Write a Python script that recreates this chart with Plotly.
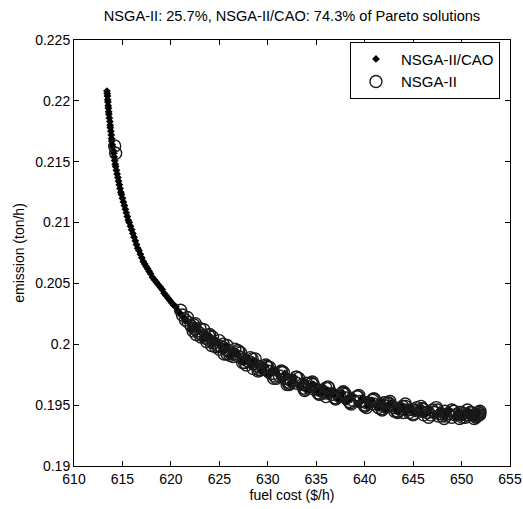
import plotly.graph_objects as go

title_text = "NSGA-II: 25.7%, NSGA-II/CAO: 74.3% of Pareto solutions"
x_label = "fuel cost ($/h)"
y_label = "emission (ton/h)"
x_ticks = [610, 615, 620, 625, 630, 635, 640, 645, 650, 655]
y_ticks = [0.19, 0.195, 0.2, 0.205, 0.21, 0.215, 0.22, 0.225]
y_tick_text = ["0.19", "0.195", "0.2", "0.205", "0.21", "0.215", "0.22", "0.225"]

# NSGA-II/CAO solutions (fuel cost, emission)
cao_cost = [613.4, 613.45, 613.5, 613.55, 613.6, 613.7, 613.75, 613.85, 613.9, 614.0,
            614.1, 614.2, 614.3, 614.45, 614.6, 614.75, 614.9, 615.1, 615.3, 615.5,
            615.7, 615.95, 616.2, 616.45, 616.7, 617.0, 617.3, 617.6, 617.9, 618.3,
            618.7, 619.1, 619.5, 619.9, 620.3, 620.7, 621.1, 621.5, 621.9, 622.4,
            622.9, 623.4, 623.9, 624.5, 625.1, 625.7, 626.3, 626.9, 627.5, 628.2,
            628.9, 629.6, 630.3, 631.0, 631.8, 632.6, 633.4, 634.2, 635.0, 635.9,
            636.8, 637.7, 638.6, 639.5, 640.4, 641.3, 642.2, 643.1, 644.0, 644.9,
            645.8, 646.7, 647.6, 648.5, 649.4, 650.3, 651.0, 651.6,
            622.0, 624.0, 626.0, 628.0, 630.0, 632.0, 634.0, 636.0, 638.0, 640.0,
            642.0, 644.0, 646.0, 648.0, 650.0, 651.2,
            620.5, 621.5, 622.5, 623.5, 624.5, 625.5, 626.5, 627.5, 628.5, 629.5,
            630.5, 631.5, 632.5, 633.5, 634.5, 635.5, 636.5, 637.5, 638.5, 639.5,
            640.5, 641.5, 642.5, 643.5, 644.5, 645.5, 646.5, 647.5, 648.5, 649.5,
            650.5, 651.4,
            622.25, 622.75, 623.25, 623.75, 624.25, 624.75, 625.25, 625.75, 626.25, 626.75,
            627.25, 627.75, 628.25, 628.75, 629.25, 629.75, 630.25, 630.75, 631.25, 631.75,
            632.25, 632.75, 633.25, 633.75, 634.25, 634.75, 635.25, 635.75, 636.25, 636.75,
            637.25, 637.75, 638.25, 638.75, 639.25, 639.75, 640.25, 640.75, 641.25, 641.75,
            642.25, 642.75, 643.25, 643.75, 644.25, 644.75, 645.25, 645.75, 646.25, 646.75,
            647.25, 647.75, 648.25, 648.75, 649.25, 649.75, 650.25, 650.75, 651.25, 651.75,
            613.43, 613.48, 613.53, 613.58, 613.65, 613.73, 613.8, 613.88, 613.95, 614.05,
            614.15, 614.25, 614.38, 614.53, 614.68, 614.83, 615.0, 615.2, 615.4, 615.6,
            615.83, 616.08, 616.33, 616.58, 616.85, 617.15, 617.45, 617.75, 618.1, 618.5,
            618.9, 619.3, 619.7, 620.1, 620.9, 621.3]
cao_emis = [0.2208, 0.2204, 0.2199, 0.2194, 0.2189, 0.2183, 0.2178, 0.2172, 0.2167, 0.2162,
            0.2157, 0.2151, 0.2146, 0.2140, 0.2134, 0.2128, 0.2123, 0.2117, 0.2111, 0.2105,
            0.2100, 0.2094, 0.2088, 0.2082, 0.2077, 0.2071, 0.2066, 0.2062, 0.2058, 0.2053,
            0.2049, 0.2045, 0.2040, 0.2036, 0.2032, 0.2028, 0.2024, 0.2021, 0.2018, 0.2014,
            0.2011, 0.2008, 0.2005, 0.2002, 0.1999, 0.1996, 0.1993, 0.1991, 0.1988, 0.1985,
            0.1982, 0.1979, 0.1977, 0.1975, 0.1972, 0.1970, 0.1967, 0.1965, 0.1963, 0.1960,
            0.1958, 0.1956, 0.1955, 0.1953, 0.1951, 0.1950, 0.1949, 0.1948, 0.1946, 0.1945,
            0.1945, 0.1944, 0.1943, 0.1943, 0.1942, 0.1942, 0.1942, 0.1942,
            0.2012, 0.2007, 0.1990, 0.1988, 0.1974, 0.1973, 0.1962, 0.1963, 0.1952, 0.1954,
            0.1946, 0.1949, 0.1942, 0.1945, 0.1940, 0.1944,
            0.2031, 0.2019, 0.2016, 0.2005, 0.2004, 0.1994, 0.1995, 0.1985, 0.1987, 0.1978,
            0.1979, 0.1971, 0.1973, 0.1965, 0.1967, 0.1960, 0.1962, 0.1955, 0.1958, 0.1952,
            0.1954, 0.1948, 0.1951, 0.1945, 0.1948, 0.1943, 0.1946, 0.1941, 0.1945, 0.1940,
            0.1944, 0.1940,
            0.2012, 0.2014, 0.2005, 0.2008, 0.2000, 0.2003, 0.1995, 0.1999, 0.1990, 0.1994,
            0.1986, 0.1990, 0.1982, 0.1986, 0.1978, 0.1982, 0.1975, 0.1979, 0.1972, 0.1976,
            0.1968, 0.1973, 0.1965, 0.1970, 0.1962, 0.1967, 0.1960, 0.1965, 0.1957, 0.1962,
            0.1955, 0.1960, 0.1953, 0.1958, 0.1951, 0.1956, 0.1949, 0.1954, 0.1948, 0.1953,
            0.1946, 0.1952, 0.1945, 0.1950, 0.1944, 0.1949, 0.1943, 0.1948, 0.1942, 0.1947,
            0.1941, 0.1946, 0.1940, 0.1946, 0.1940, 0.1945, 0.1940, 0.1945, 0.1940, 0.1944,
            0.2206, 0.2201, 0.2196, 0.2191, 0.2186, 0.2180, 0.2175, 0.2169, 0.2164, 0.2159,
            0.2154, 0.2148, 0.2143, 0.2137, 0.2131, 0.2125, 0.2120, 0.2114, 0.2108, 0.2102,
            0.2097, 0.2091, 0.2085, 0.2079, 0.2074, 0.2068, 0.2064, 0.2060, 0.2055, 0.2051,
            0.2047, 0.2042, 0.2038, 0.2034, 0.2026, 0.2022]

# NSGA-II solutions (fuel cost, emission)
nsga_cost = [614.2, 614.3,
             621.2, 621.5, 621.8, 622.1, 622.4, 622.7, 623.0, 623.3, 623.6, 624.0,
             624.4, 624.8, 625.2, 625.6, 626.0, 626.5, 627.0, 627.5, 628.0, 628.5,
             629.0, 629.5, 630.0, 630.6, 631.2, 631.8, 632.4, 633.0, 633.6, 634.2,
             634.8, 635.4, 636.0, 636.7, 637.4, 638.1, 638.8, 639.5, 640.2, 640.9,
             641.6, 642.3, 643.0, 643.7, 644.4, 645.1, 645.8, 646.5, 647.2, 647.9,
             648.6, 649.3, 650.0, 650.6, 651.2, 651.7,
             622.5, 624.0, 625.5, 627.0, 628.5, 630.0, 632.0, 634.0, 636.0, 638.0,
             640.0, 642.0, 644.0, 646.0, 648.0, 650.0, 651.5, 651.8,
             621.0, 621.7, 622.3, 623.0, 623.7, 624.3, 625.0, 625.8, 626.4, 627.2,
             627.8, 628.7, 629.3, 630.2, 630.9, 631.6, 632.3, 633.2, 633.9, 634.7,
             635.3, 636.3, 637.0, 637.9, 638.5, 639.3, 640.0, 640.8, 641.4, 642.4,
             643.1, 643.9, 644.6, 645.4, 646.1, 647.0, 647.6, 648.3, 649.0, 649.8,
             650.4, 651.0, 651.6, 651.9,
             622.35, 623.1, 623.9, 624.6, 625.4, 626.1, 626.9, 627.6, 628.4, 629.1,
             629.9, 630.7, 631.4, 632.1, 632.9, 633.7, 634.5, 635.2, 636.0, 636.9,
             637.7, 638.4, 639.2, 640.1, 640.9, 641.8, 642.6, 643.4, 644.2, 645.0,
             645.9, 646.8, 647.5, 648.4, 649.2, 650.1, 650.9, 651.4, 651.85,
             622.6, 623.4, 624.2, 625.0, 625.8, 626.6, 627.4, 628.2, 629.0, 629.8,
             630.6, 631.4, 632.2, 633.0, 633.8, 634.6, 635.4, 636.2, 637.0, 637.8,
             638.6, 639.4, 640.2, 641.0, 641.8, 642.6, 643.4, 644.2, 645.0, 645.8,
             646.6, 647.4, 648.2, 649.0, 649.8, 650.6, 651.3, 651.9]
nsga_emis = [0.2163, 0.2157,
             0.2024, 0.2020, 0.2018, 0.2015, 0.2013, 0.2011, 0.2009, 0.2007, 0.2005, 0.2003,
             0.2001, 0.1999, 0.1998, 0.1996, 0.1994, 0.1992, 0.1990, 0.1988, 0.1986, 0.1984,
             0.1982, 0.1980, 0.1978, 0.1976, 0.1974, 0.1972, 0.1970, 0.1968, 0.1967, 0.1965,
             0.1963, 0.1962, 0.1960, 0.1959, 0.1957, 0.1956, 0.1954, 0.1953, 0.1952, 0.1951,
             0.1950, 0.1949, 0.1948, 0.1947, 0.1946, 0.1946, 0.1945, 0.1944, 0.1944, 0.1943,
             0.1943, 0.1942, 0.1942, 0.1942, 0.1942, 0.1942,
             0.2017, 0.2008, 0.1992, 0.1994, 0.1980, 0.1981, 0.1967, 0.1968, 0.1957, 0.1959,
             0.1949, 0.1952, 0.1944, 0.1947, 0.1941, 0.1944, 0.1940, 0.1944,
             0.2028, 0.2022, 0.2011, 0.2013, 0.2002, 0.2006, 0.1996, 0.1999, 0.1990, 0.1993,
             0.1983, 0.1988, 0.1979, 0.1981, 0.1972, 0.1977, 0.1968, 0.1972, 0.1963, 0.1967,
             0.1959, 0.1964, 0.1956, 0.1960, 0.1952, 0.1957, 0.1950, 0.1954, 0.1948, 0.1952,
             0.1945, 0.1949, 0.1944, 0.1948, 0.1942, 0.1946, 0.1941, 0.1945, 0.1940, 0.1944,
             0.1940, 0.1944, 0.1941, 0.1943,
             0.2016, 0.2006, 0.2007, 0.1998, 0.2000, 0.1991, 0.1995, 0.1985, 0.1988, 0.1979,
             0.1982, 0.1974, 0.1977, 0.1969, 0.1973, 0.1964, 0.1968, 0.1960, 0.1964, 0.1956,
             0.1960, 0.1953, 0.1957, 0.1950, 0.1955, 0.1947, 0.1951, 0.1945, 0.1949, 0.1943,
             0.1947, 0.1942, 0.1946, 0.1941, 0.1945, 0.1940, 0.1944, 0.1941, 0.1942,
             0.2008, 0.2012, 0.1999, 0.2003, 0.1992, 0.1996, 0.1985, 0.1989, 0.1978, 0.1983,
             0.1972, 0.1978, 0.1967, 0.1973, 0.1962, 0.1969, 0.1959, 0.1965, 0.1955, 0.1961,
             0.1951, 0.1958, 0.1948, 0.1955, 0.1946, 0.1953, 0.1944, 0.1951, 0.1942, 0.1949,
             0.1940, 0.1948, 0.1939, 0.1946, 0.1939, 0.1946, 0.1939, 0.1945]

FONT = "Arial, Liberation Sans, Helvetica, sans-serif"
FS = 14

fig = go.Figure()
fig.add_trace(go.Scatter(
    x=cao_cost, y=cao_emis, mode="markers", name="NSGA-II/CAO",
    marker=dict(symbol="diamond", size=6, color="black", line=dict(width=0)),
))
fig.add_trace(go.Scatter(
    x=nsga_cost, y=nsga_emis, mode="markers", name="NSGA-II",
    marker=dict(symbol="circle-open", size=12, color="#1a1a1a", line=dict(width=1.4)),
))

axis_common = dict(
    showgrid=False, zeroline=False, showline=True, linecolor="black", linewidth=1,
    mirror="ticks", ticks="inside", ticklen=5, tickwidth=1, tickcolor="black",
    tickfont=dict(family=FONT, size=FS, color="black"), automargin=False,
)

fig.update_layout(
    width=523, height=509,
    margin=dict(l=74, r=13, t=40, b=43, pad=0),
    paper_bgcolor="white", plot_bgcolor="white",
    font=dict(family=FONT, size=FS, color="black"),
    title=dict(text=title_text, x=0.5, xref="paper", xanchor="center",
               y=(509 - 16) / 509, yref="container", yanchor="middle",
               font=dict(family=FONT, size=14.6, color="black")),
    xaxis=dict(range=[610, 655], tickvals=x_ticks,
               title=dict(text=x_label, standoff=2, font=dict(family=FONT, size=FS)),
               **axis_common),
    yaxis=dict(range=[0.19, 0.225], tickvals=y_ticks, ticktext=y_tick_text,
               title=dict(text=y_label, standoff=7, font=dict(family=FONT, size=FS)),
               **axis_common),
    legend=dict(x=0.977, y=0.996, xanchor="right", yanchor="top",
                bordercolor="black", borderwidth=1, bgcolor="white",
                font=dict(family=FONT, size=15, color="black"),
                itemwidth=40, tracegroupgap=0),
    showlegend=True,
)

fig.write_html("out.html", config={"displayModeBar": False},
               post_script="document.body.style.margin='0px';document.body.style.padding='0px';")
